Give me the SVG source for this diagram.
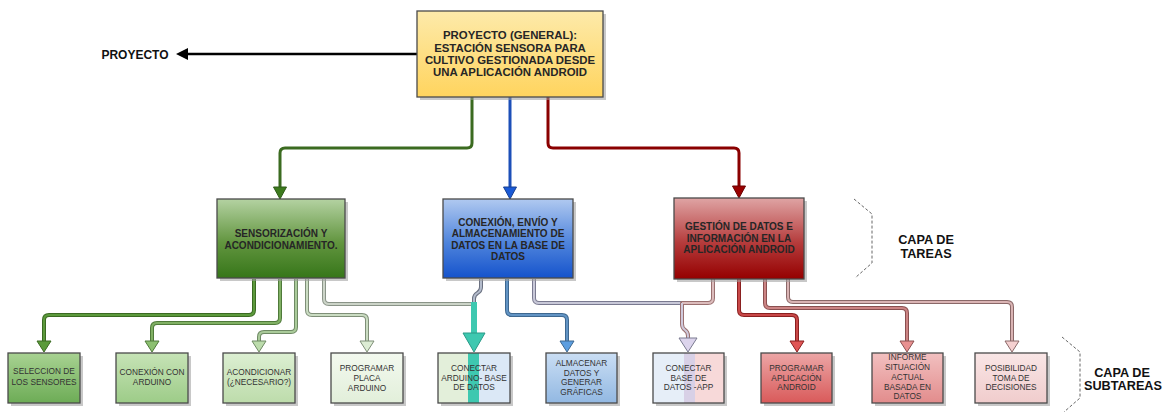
<svg xmlns="http://www.w3.org/2000/svg" width="1170" height="412" viewBox="0 0 1170 412">
<defs>
<linearGradient id="gTop" x1="0" y1="0" x2="0" y2="1"><stop offset="0" stop-color="#fdeaaa"/><stop offset="1" stop-color="#ffd45e"/></linearGradient>
<linearGradient id="gGreen" x1="0" y1="0" x2="0" y2="1"><stop offset="0" stop-color="#b4d2a2"/><stop offset="0.55" stop-color="#62953f"/><stop offset="1" stop-color="#367619"/></linearGradient>
<linearGradient id="gBlue" x1="0" y1="0" x2="0" y2="1"><stop offset="0" stop-color="#b0c9f0"/><stop offset="0.55" stop-color="#4f84dc"/><stop offset="1" stop-color="#1553cc"/></linearGradient>
<linearGradient id="gRed" x1="0" y1="0" x2="0" y2="1"><stop offset="0" stop-color="#dfa4a4"/><stop offset="0.55" stop-color="#b53c3c"/><stop offset="1" stop-color="#950000"/></linearGradient>
<linearGradient id="s1" x1="0" y1="0" x2="0" y2="1"><stop offset="0" stop-color="#a8d292"/><stop offset="1" stop-color="#6dac56"/></linearGradient>
<linearGradient id="s2" x1="0" y1="0" x2="0" y2="1"><stop offset="0" stop-color="#c6e3b6"/><stop offset="1" stop-color="#9dcc88"/></linearGradient>
<linearGradient id="s3" x1="0" y1="0" x2="0" y2="1"><stop offset="0" stop-color="#dcefd2"/><stop offset="1" stop-color="#bddcab"/></linearGradient>
<linearGradient id="s4" x1="0" y1="0" x2="0" y2="1"><stop offset="0" stop-color="#f3f9ef"/><stop offset="1" stop-color="#e2efda"/></linearGradient>
<linearGradient id="s6" x1="0" y1="0" x2="0" y2="1"><stop offset="0" stop-color="#cadef4"/><stop offset="1" stop-color="#92b8e2"/></linearGradient>
<linearGradient id="s8" x1="0" y1="0" x2="0" y2="1"><stop offset="0" stop-color="#eca6a6"/><stop offset="1" stop-color="#d95a5a"/></linearGradient>
<linearGradient id="s9" x1="0" y1="0" x2="0" y2="1"><stop offset="0" stop-color="#f2c0c0"/><stop offset="1" stop-color="#e28c8c"/></linearGradient>
<linearGradient id="s10" x1="0" y1="0" x2="0" y2="1"><stop offset="0" stop-color="#f9e6e6"/><stop offset="1" stop-color="#f0cccc"/></linearGradient>
</defs>
<style>
text{font-family:"Liberation Sans",Arial,sans-serif;text-anchor:middle}
.box{stroke:#4a4a4a;stroke-width:1.3}
.sh{fill:#9a9a9a;opacity:0.55}
.top{font-size:11.4px;font-weight:bold;fill:#262626}
.task{font-size:10px;font-weight:bold;fill:#262626}
.sub{font-size:8.3px;fill:#333}
.lab{font-size:12.7px;font-weight:bold;fill:#111}
.o{fill:none;stroke-width:4;stroke-linejoin:round}
.i{fill:none;stroke-width:2;stroke-linejoin:round}
.br{fill:none;stroke:#666;stroke-width:1;stroke-dasharray:3 2}
</style>

<g id="connectors">
<!-- project arrow -->
<line x1="417" y1="54" x2="186" y2="54" stroke="#000" stroke-width="2.5"/>
<polygon points="176,54 188,48 188,60" fill="#000"/>
<!-- top to tasks -->
<path d="M472,97 V143 Q472,148 467,148 H285 Q280,148 280,153 V188" fill="none" stroke="#3b6b20" stroke-width="3"/>
<polygon points="273.5,187 286.5,187 280,199" fill="#3d7a1e" stroke="#2e5a18" stroke-width="1"/>
<path d="M510,97 V188" fill="none" stroke="#1c4fb8" stroke-width="3"/>
<polygon points="503.5,187 516.5,187 510,199" fill="#1a5ad6" stroke="#163f90" stroke-width="1"/>
<path d="M548,97 V143 Q548,148 553,148 H734 Q739,148 739,153 V187" fill="none" stroke="#8a0000" stroke-width="3"/>
<polygon points="732.5,186 745.5,186 739,198" fill="#9a0000" stroke="#6a0000" stroke-width="1"/>

<!-- green subtasks -->
<path class="o" stroke="#3b6a22" d="M254,279 V310 Q254,315 249,315 H49 Q44,315 44,320 V342"/>
<path class="i" stroke="#5c9a3c" d="M254,279 V310 Q254,315 249,315 H49 Q44,315 44,320 V342"/>
<polygon points="37,341 51,341 44,352" fill="#5a9a3a" stroke="#3b6a22" stroke-width="1"/>
<path class="o" stroke="#4f7a3a" d="M280,279 V318 Q280,323 275,323 H157 Q152,323 152,328 V342"/>
<path class="i" stroke="#80b064" d="M280,279 V318 Q280,323 275,323 H157 Q152,323 152,328 V342"/>
<polygon points="145,341 159,341 152,352" fill="#8cc070" stroke="#4f7a3a" stroke-width="1"/>
<path class="o" stroke="#6f8a64" d="M296,279 V327 Q296,332 291,332 H264 Q259,332 259,337 V342"/>
<path class="i" stroke="#aacb9a" d="M296,279 V327 Q296,332 291,332 H264 Q259,332 259,337 V342"/>
<polygon points="252,341 266,341 259,352" fill="#bcdcac" stroke="#6f8a64" stroke-width="1"/>
<path class="o" stroke="#7f8f78" d="M307,279 V310 Q307,315 312,315 H362 Q367,315 367,320 V342"/>
<path class="i" stroke="#cadcc2" d="M307,279 V310 Q307,315 312,315 H362 Q367,315 367,320 V342"/>
<polygon points="360,341 374,341 367,352" fill="#dcecd4" stroke="#7f8f78" stroke-width="1"/>
<path class="o" stroke="#8a9488" d="M324,279 V299 Q324,304 329,304 H474"/>
<path class="i" stroke="#ccd4c8" d="M324,279 V299 Q324,304 329,304 H474"/>

<!-- blue subtasks -->
<path class="o" stroke="#6a7080" d="M481,279 V287 Q481,291 477.5,293 Q474,295 474,299 V304"/>
<path class="i" stroke="#b4bccc" d="M481,279 V287 Q481,291 477.5,293 Q474,295 474,299 V304"/>
<path d="M474,302 V335" fill="none" stroke="#3ec8b0" stroke-width="6"/>
<polygon points="463,333 485,333 474,352" fill="#3ec8b0" stroke="#2a9a88" stroke-width="1"/>
<path class="o" stroke="#3e6890" d="M507,279 V310 Q507,315 512,315 H562 Q567,315 567,320 V342"/>
<path class="i" stroke="#6294c4" d="M507,279 V310 Q507,315 512,315 H562 Q567,315 567,320 V342"/>
<polygon points="560,341 574,341 567,352" fill="#5c9ee0" stroke="#3e6890" stroke-width="1"/>
<path class="o" stroke="#7a7a90" d="M534,279 V298 Q534,303 539,303 H682"/>
<path class="i" stroke="#c8c8d8" d="M534,279 V298 Q534,303 539,303 H682"/>

<!-- red subtasks -->
<path class="o" stroke="#9a7070" d="M713,279 V298 Q713,303 708,303 H682 V324 Q682,328 685,330 Q688,332 688,336 V340"/>
<path class="i" stroke="#dcbcbc" d="M713,279 V298 Q713,303 708,303 H682"/>
<path class="i" stroke="#d0cadc" d="M682,303 V324 Q682,328 685,330 Q688,332 688,336 V340"/>
<polygon points="679,338 697,338 688,352" fill="#dcd4ec" stroke="#7a7a90" stroke-width="1"/>
<path class="o" stroke="#8a2020" d="M739,279 V310 Q739,315 744,315 H792 Q797,315 797,320 V342"/>
<path class="i" stroke="#c84848" d="M739,279 V310 Q739,315 744,315 H792 Q797,315 797,320 V342"/>
<polygon points="790,341 804,341 797,352" fill="#e05555" stroke="#8a2020" stroke-width="1"/>
<path class="o" stroke="#8a5050" d="M765,279 V303 Q765,308 770,308 H902 Q907,308 907,313 V342"/>
<path class="i" stroke="#cc8484" d="M765,279 V303 Q765,308 770,308 H902 Q907,308 907,313 V342"/>
<polygon points="900,341 914,341 907,352" fill="#e89090" stroke="#8a5050" stroke-width="1"/>
<path class="o" stroke="#8a6868" d="M788,279 V297 Q788,302 793,302 H1007 Q1012,302 1012,307 V342"/>
<path class="i" stroke="#dab4b4" d="M788,279 V297 Q788,302 793,302 H1007 Q1012,302 1012,307 V342"/>
<polygon points="1005,341 1019,341 1012,352" fill="#f5d0d0" stroke="#8a6868" stroke-width="1"/>
</g>

<g id="node-top">
<rect class="sh" x="420" y="14" width="186" height="86"/>
<rect class="box" x="417" y="11" width="186" height="86" fill="url(#gTop)"/>
<text class="top" x="510" y="39">PROYECTO (GENERAL):</text>
<text class="top" x="510" y="51.5">ESTACIÓN SENSORA PARA</text>
<text class="top" x="510" y="64">CULTIVO GESTIONADA DESDE</text>
<text class="top" x="510" y="76">UNA APLICACIÓN ANDROID</text>
</g>
<g id="label-proyecto"><text class="lab" x="135" y="58.5" style="font-size:12px">PROYECTO</text></g>

<g id="task-sensor">
<rect class="sh" x="220" y="202" width="128" height="79"/>
<rect class="box" x="217" y="199" width="128" height="79" fill="url(#gGreen)"/>
<text class="task" x="281" y="236.5">SENSORIZACIÓN Y</text>
<text class="task" x="281" y="248.5">ACONDICIONAMIENTO.</text>
</g>
<g id="task-conexion">
<rect class="sh" x="446" y="202" width="130" height="79"/>
<rect class="box" x="443" y="199" width="130" height="79" fill="url(#gBlue)"/>
<text class="task" x="508" y="225.5">CONEXIÓN, ENVÍO Y</text>
<text class="task" x="508" y="237">ALMACENAMIENTO DE</text>
<text class="task" x="508" y="248.5">DATOS EN LA BASE DE</text>
<text class="task" x="508" y="260">DATOS</text>
</g>
<g id="task-gestion">
<rect class="sh" x="677" y="201" width="130" height="81"/>
<rect class="box" x="674" y="198" width="130" height="81" fill="url(#gRed)"/>
<text class="task" x="739" y="230">GESTIÓN DE DATOS E</text>
<text class="task" x="739" y="241.5">INFORMACIÓN EN LA</text>
<text class="task" x="739" y="253">APLICACIÓN ANDROID</text>
</g>

<g id="layer-tareas">
<path class="br" d="M854,199 L872,214 V263 L855,278"/>
<text class="lab" x="926" y="243.5">CAPA DE</text>
<text class="lab" x="926" y="257.5">TAREAS</text>
</g>
<g id="layer-subtareas">
<path class="br" d="M1062,337 L1080,352 V398 L1064,412"/>
<text class="lab" x="1122" y="376.5">CAPA DE</text>
<text class="lab" x="1123" y="390">SUBTAREAS</text>
</g>

<g id="sub1">
<rect class="sh" x="11" y="356" width="72" height="50"/>
<rect class="box" x="8" y="353" width="72" height="50" fill="url(#s1)"/>
<text class="sub" x="44" y="374">SELECCION DE</text>
<text class="sub" x="44" y="385">LOS SENSORES</text>
</g>
<g id="sub2">
<rect class="sh" x="119" y="356" width="72" height="50"/>
<rect class="box" x="116" y="353" width="72" height="50" fill="url(#s2)"/>
<text class="sub" x="152" y="375">CONEXIÓN CON</text>
<text class="sub" x="152" y="385">ARDUINO</text>
</g>
<g id="sub3">
<rect class="sh" x="226" y="356" width="72" height="50"/>
<rect class="box" x="223" y="353" width="72" height="50" fill="url(#s3)"/>
<text class="sub" x="259" y="375">ACONDICIONAR</text>
<text class="sub" x="259" y="385">(¿NECESARIO?)</text>
</g>
<g id="sub4">
<rect class="sh" x="334" y="356" width="72" height="50"/>
<rect class="box" x="331" y="353" width="72" height="50" fill="url(#s4)"/>
<text class="sub" x="367" y="371">PROGRAMAR</text>
<text class="sub" x="367" y="381">PLACA</text>
<text class="sub" x="367" y="390.5">ARDUINO</text>
</g>
<g id="sub5">
<rect class="sh" x="441" y="356" width="72" height="50"/>
<rect x="438" y="353" width="36" height="50" fill="#e3efda"/>
<rect x="474" y="353" width="36" height="50" fill="#dbe8f6"/>
<rect x="468" y="353" width="11" height="50" fill="#3ec8b0"/>
<rect class="box" x="438" y="353" width="72" height="50" fill="none"/>
<text class="sub" x="474" y="371">CONECTAR</text>
<text class="sub" x="474" y="380.5">ARDUINO- BASE</text>
<text class="sub" x="474" y="390">DE DATOS</text>
</g>
<g id="sub6">
<rect class="sh" x="549" y="356" width="71" height="50"/>
<rect class="box" x="546" y="353" width="71" height="50" fill="url(#s6)"/>
<text class="sub" x="581.5" y="366">ALMACENAR</text>
<text class="sub" x="581.5" y="375.5">DATOS Y</text>
<text class="sub" x="581.5" y="385">GENERAR</text>
<text class="sub" x="581.5" y="395">GRÁFICAS</text>
</g>
<g id="sub7">
<rect class="sh" x="656" y="356" width="71" height="50"/>
<rect x="653" y="353" width="35" height="50" fill="#e6eef8"/>
<rect x="688" y="353" width="36" height="50" fill="#f7d9d9"/>
<rect x="684" y="353" width="11" height="50" fill="#d8d0e6"/>
<rect class="box" x="653" y="353" width="71" height="50" fill="none"/>
<text class="sub" x="688.5" y="371">CONECTAR</text>
<text class="sub" x="688.5" y="380.5">BASE DE</text>
<text class="sub" x="688.5" y="390">DATOS -APP</text>
</g>
<g id="sub8">
<rect class="sh" x="764" y="356" width="71" height="50"/>
<rect class="box" x="761" y="353" width="71" height="50" fill="url(#s8)"/>
<text class="sub" x="796.5" y="371">PROGRAMAR</text>
<text class="sub" x="796.5" y="380.5">APLICACIÓN</text>
<text class="sub" x="796.5" y="390">ANDROID</text>
</g>
<g id="sub9">
<rect class="sh" x="875" y="356" width="71" height="50"/>
<rect class="box" x="872" y="353" width="71" height="50" fill="url(#s9)"/>
<text class="sub" x="907.5" y="360">INFORME</text>
<text class="sub" x="907.5" y="370">SITUACIÓN</text>
<text class="sub" x="907.5" y="380">ACTUAL</text>
<text class="sub" x="907.5" y="390">BASADA EN</text>
<text class="sub" x="907.5" y="398.5">DATOS</text>
</g>
<g id="sub10">
<rect class="sh" x="978" y="356" width="72" height="50"/>
<rect class="box" x="975" y="353" width="72" height="50" fill="url(#s10)"/>
<text class="sub" x="1011" y="371">POSIBILIDAD</text>
<text class="sub" x="1011" y="380.5">TOMA DE</text>
<text class="sub" x="1011" y="390">DECISIONES</text>
</g>
</svg>
